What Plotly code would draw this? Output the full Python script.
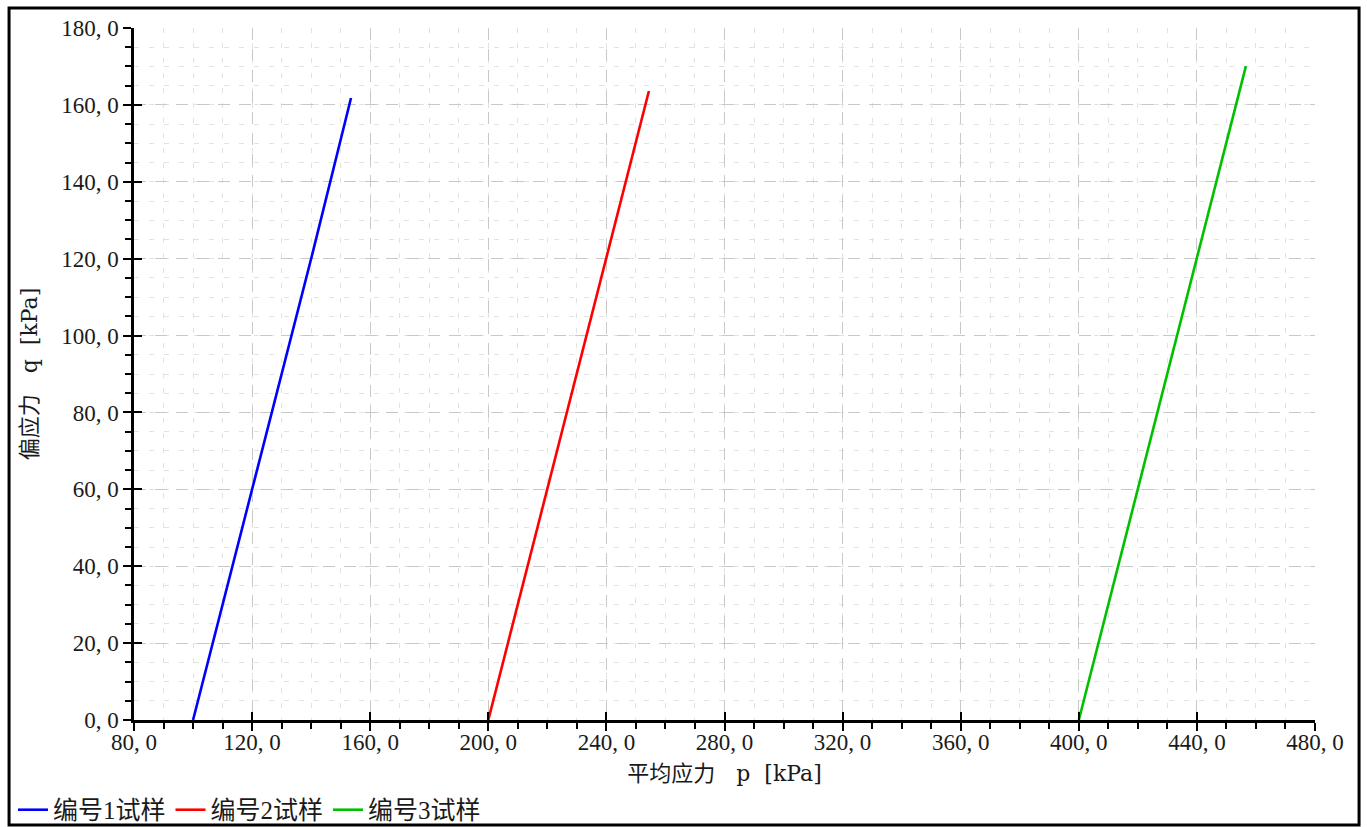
import plotly.graph_objects as go

# Data (p = mean stress, q = deviator stress, kPa)
p1 = [100.0, 113.5, 127.0, 140.5, 153.5]
q1 = [0.0, 40.5, 81.0, 121.5, 161.8]
p2 = [200.0, 213.6, 227.2, 240.8, 254.4]
q2 = [0.0, 40.9, 81.8, 122.7, 163.6]
p3 = [400.0, 414.2, 428.4, 442.6, 456.6]
q3 = [0.0, 42.5, 85.0, 127.6, 170.1]

series_names = ["编号1试样", "编号2试样", "编号3试样"]
series_colors = ["#0000ff", "#ff0000", "#00c000"]

x_ticks = [80, 120, 160, 200, 240, 280, 320, 360, 400, 440, 480]
y_ticks = [0, 20, 40, 60, 80, 100, 120, 140, 160, 180]
x_labels = [f"{v}, 0" for v in x_ticks]
y_labels = [f"{v}, 0" for v in y_ticks]

FONT = "Liberation Serif, Noto Sans CJK SC, serif"
TXT = "#1a1a1a"
LAT = "<span style='font-family:DejaVu Serif'>"

fig = go.Figure()
for p, q, name, col in zip([p1, p2, p3], [q1, q2, q3], series_names, series_colors):
    fig.add_trace(go.Scatter(x=p, y=q, mode="lines", name=name,
                             line=dict(color=col, width=2.6)))

# invisible trace carrying the inner half of the major ticks
fig.add_trace(go.Scatter(x=[None], y=[None], xaxis="x2", yaxis="y2",
                         showlegend=False, hoverinfo="skip"))

axis_common = dict(
    automargin=False,
    showline=True, linecolor="black", linewidth=2.5,
    ticks="outside", ticklen=8, tickwidth=2, tickcolor="black",
    showgrid=True, gridcolor="#c8c8c8", gridwidth=1, griddash="12px,9px",
    zeroline=False,
    tickfont=dict(family=FONT, size=23, color=TXT),
)

fig.update_layout(
    width=1367, height=827, autosize=False,
    paper_bgcolor="white", plot_bgcolor="white",
    margin=dict(l=134, r=52, t=28, b=107),
    font=dict(family=FONT, size=21, color=TXT),
    showlegend=True,
    legend=dict(orientation="h", xref="container", yref="container",
                x=0.0095, xanchor="left", y=0.0206, yanchor="middle",
                bgcolor="rgba(0,0,0,0)", font=dict(family=FONT, size=25, color=TXT),
                itemwidth=30, tracegroupgap=0),
    xaxis=dict(range=[80, 480], tickvals=x_ticks, ticktext=x_labels,
               ticklabelstandoff=-8,
               title=dict(text="平均应力" + LAT + "\u00a0\u00a0\u00a0p\u00a0\u00a0[kPa]</span>",
                          standoff=12, font=dict(family=FONT, size=22, color=TXT)),
               minor=dict(dtick=10, ticklen=6, tickwidth=1.5, tickcolor="black",
                          ticks="outside", showgrid=True, gridcolor="#e2e2e2",
                          griddash="5px,10px", gridwidth=1),
               **axis_common),
    yaxis=dict(range=[0, 180], tickvals=y_ticks, ticktext=y_labels,
               title=dict(text="偏应力" + LAT + "\u00a0\u00a0\u00a0q\u00a0\u00a0[kPa]</span>",
                          standoff=18, font=dict(family=FONT, size=22, color=TXT)),
               minor=dict(dtick=5, ticklen=6, tickwidth=1.5, tickcolor="black",
                          ticks="outside", showgrid=True, gridcolor="#e2e2e2",
                          griddash="5px,10px", gridwidth=1),
               **axis_common),
    xaxis2=dict(range=[80, 480], overlaying="x", tickvals=x_ticks, ticks="inside",
                ticklen=8, tickwidth=2, tickcolor="black", showticklabels=False,
                showgrid=False, showline=False, zeroline=False, side="bottom",
                automargin=False),
    yaxis2=dict(range=[0, 180], overlaying="y", tickvals=y_ticks, ticks="inside",
                ticklen=8, tickwidth=2, tickcolor="black", showticklabels=False,
                showgrid=False, showline=False, zeroline=False, side="left",
                automargin=False),
    shapes=[dict(type="rect", xref="paper", yref="paper",
                 x0=-0.1058, x1=1.0373, y0=-0.1517, y1=1.0289,
                 line=dict(color="black", width=3), fillcolor="rgba(0,0,0,0)",
                 layer="above")],
)

# remove the browser's default 8px body margin so the figure sits at (0, 0)
post = "document.body.style.margin='0'; document.documentElement.style.overflow='hidden';"
fig.write_html("out.html", post_script=post)
